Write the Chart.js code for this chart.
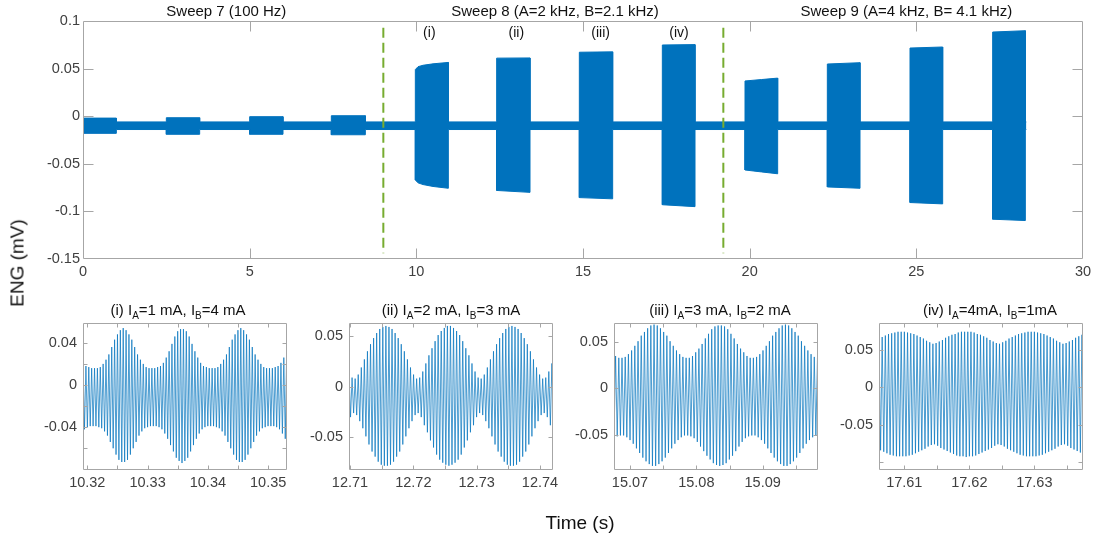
<!DOCTYPE html>
<html><head><meta charset="utf-8">
<script src="https://cdn.jsdelivr.net/npm/chart.js@4.4.1/dist/chart.umd.min.js"></script>
<style>
html,body{margin:0;padding:0;background:#fff;}
#wrap{position:relative;width:1099px;height:538px;overflow:hidden;font-family:"Liberation Sans",Arial,Helvetica,sans-serif;}
canvas{position:absolute;left:0;top:0;}
.ttl{position:absolute;font-size:15px;line-height:15px;white-space:nowrap;color:#111;transform:translateX(-50%);}
.ttl .s{font-size:10px;position:relative;top:4px;}
.lab{position:absolute;font-size:19px;line-height:19px;white-space:nowrap;color:#111;}
</style></head><body><div id="wrap">
<canvas id="cMain" width="1099" height="538"></canvas>
<canvas id="c1" width="1099" height="538"></canvas>
<canvas id="c2" width="1099" height="538"></canvas>
<canvas id="c3" width="1099" height="538"></canvas>
<canvas id="c4" width="1099" height="538"></canvas>
<div class="ttl" style="left:178px;top:302px">(i) I<span class="s">A</span>=1 mA, I<span class="s">B</span>=4 mA</div>
<div class="ttl" style="left:451px;top:302px">(ii) I<span class="s">A</span>=2 mA, I<span class="s">B</span>=3 mA</div>
<div class="ttl" style="left:720px;top:302px">(iii) I<span class="s">A</span>=3 mA, I<span class="s">B</span>=2 mA</div>
<div class="ttl" style="left:990px;top:302px">(iv) I<span class="s">A</span>=4mA, I<span class="s">B</span>=1mA</div>
<div class="lab" style="left:17px;top:263px;transform:translate(-50%,-50%) rotate(-90deg)">ENG (mV)</div>
<div class="lab" style="left:580px;top:513px;transform:translateX(-50%)">Time (s)</div>
</div>
<script>
// ---------- main sweep recording: envelope of the trace ----------
const mainTime  = [0, 1.0, 1.0, 2.5, 2.5, 3.5, 3.5, 5.0, 5.0, 6.0, 6.0, 7.45, 7.45, 8.47, 8.47, 9.97, 9.97, 10.05, 10.2, 10.5, 10.96, 10.96, 12.41, 12.41, 13.41, 13.41, 14.89, 14.89, 15.89, 15.89, 17.38, 17.38, 18.36, 18.36, 19.86, 19.86, 20.35, 20.84, 20.84, 22.33, 22.33, 23.31, 23.31, 24.81, 24.81, 25.79, 25.79, 27.29, 27.29, 28.27, 28.27, 28.3];
const mainUpper = [-0.002, -0.002, -0.006, -0.006, -0.0016, -0.0016, -0.006, -0.006, -0.0005, -0.0005, -0.006, -0.006, 0.0005, 0.0005, -0.006, -0.006, 0.049, 0.052, 0.0535, 0.055, 0.0565, -0.006, -0.006, 0.061, 0.0612, -0.006, -0.006, 0.0672, 0.0676, -0.006, -0.006, 0.0748, 0.0752, -0.006, -0.006, 0.037, 0.0385, 0.040, -0.006, -0.006, 0.0548, 0.0562, -0.006, -0.006, 0.0716, 0.0727, -0.006, -0.006, 0.0884, 0.0898, -0.006, -0.006];
const mainLower = [-0.018, -0.018, -0.014, -0.014, -0.019, -0.019, -0.014, -0.014, -0.019, -0.019, -0.014, -0.014, -0.0195, -0.0195, -0.014, -0.014, -0.067, -0.070, -0.0718, -0.0738, -0.0757, -0.014, -0.014, -0.078, -0.080, -0.014, -0.014, -0.0855, -0.0868, -0.014, -0.014, -0.093, -0.095, -0.014, -0.014, -0.0565, -0.0585, -0.0605, -0.014, -0.014, -0.0743, -0.0757, -0.014, -0.014, -0.0907, -0.0921, -0.014, -0.014, -0.1082, -0.1096, -0.014, -0.014];
const sweepLabels = ['Sweep 7 (100 Hz)', 'Sweep 8 (A=2 kHz, B=2.1 kHz)', 'Sweep 9 (A=4 kHz, B= 4.1 kHz)'];
const sweepLabelX = [4.3, 14.16, 24.7];
const burstLabels = ['(i)', '(ii)', '(iii)', '(iv)'];
const burstLabelX = [10.39, 13.0, 15.53, 17.88];
const sweepBoundaries = [9.01, 19.21];
const boundaryTop = 0.093, boundaryBottom = -0.144;

// ---------- zoomed windows: sampled trace (mV), uniform sampling ----------
const zoomStart = [10.3193, 12.70984, 15.06759, 17.60611];
const zoomStep  = [0.0002378, 0.0002427, 0.0002415, 0.0002439];
const zoomXMin  = [10.31929, 12.70984, 15.06759, 17.60611];
const zoomXMax  = [10.35312, 12.74205, 15.09834, 17.63749];
const zoomYMin  = [-0.0806, -0.0822, -0.0884, -0.1103];
const zoomYMax  = [0.0588, 0.0629, 0.0707, 0.0857];
const zoomYStep = [0.02, 0.05, 0.05, 0.05];
const zoomYLabelled = [[0.04, 0, -0.04], [0.05, 0, -0.05], [0.05, 0, -0.05], [0.05, 0, -0.05]];

const zoomI = [.021,-.042,.018,-.040,.017,-.039,.016,-.039,.016,-.039,.016,-.040,.017,-.041,.020,-.044,.024,-.048,.029,-.054,.036,-.060,.043,-.066,.048,-.071,.052,-.073,.054,-.073,.052,-.071,.048,-.066,.043,-.060,.036,-.054,.029,-.048,.024,-.044,.020,-.041,.017,-.040,.016,-.039,.016,-.039,.016,-.039,.017,-.040,.018,-.042,.021,-.046,.026,-.051,.032,-.057,.039,-.063,.046,-.069,.051,-.072,.053,-.074,.053,-.072,.051,-.069,.046,-.063,.039,-.057,.032,-.051,.026,-.046,
 .021,-.042,.018,-.040,.017,-.039,.016,-.039,.016,-.039,.016,-.040,.017,-.041,.020,-.044,.024,-.048,.029,-.054,.036,-.060,.043,-.066,.048,-.071,.052,-.073,.054,-.073,.052,-.071,.048,-.066,.043,-.060,.036,-.054,.029,-.048,.024,-.044,.020,-.041,.017,-.040,.016,-.039,.016,-.039,.016,-.039,.017,-.040,.018,-.042,.021,-.046,.026,-.051,.032,-.057];
const zoomII = [.015,-.030,.009,-.026,.008,-.028,.012,-.034,.019,-.041,.027,-.049,.035,-.057,.042,-.064,.048,-.069,.053,-.074,.057,-.077,.059,-.078,.060,-.078,.059,-.077,.057,-.074,.053,-.069,.048,-.064,.042,-.057,.035,-.049,.027,-.041,.019,-.034,.012,-.028,.008,-.026,.009,-.030,.015,-.038,.023,-.045,.031,-.053,.038,-.060,.045,-.067,.051,-.072,.055,-.075,.058,-.077,.060,-.078,.060,-.077,.058,-.075,.055,-.072,.051,-.067,.045,-.060,.038,-.053,.031,-.045,.023,-.038,
 .015,-.030,.009,-.026,.008,-.028,.012,-.034,.019,-.041,.027,-.049,.035,-.057,.042,-.064,.048,-.069,.053,-.074,.057,-.077,.059,-.078,.060,-.078,.059,-.077,.057,-.074,.053,-.069,.048,-.064,.042,-.057,.035,-.049,.027,-.041,.019,-.034,.012,-.028,.008,-.026,.009,-.030,.015,-.038,.023,-.045];
const zoomIII = [-.054,.035,-.052,.033,-.051,.033,-.051,.034,-.053,.037,-.056,.041,-.060,.046,-.065,.051,-.070,.057,-.075,.061,-.079,.065,-.082,.068,-.084,.069,-.084,.068,-.082,.065,-.079,.061,-.075,.057,-.070,.051,-.065,.046,-.060,.041,-.056,.037,-.053,.034,-.051,.033,-.051,.033,-.052,.035,-.054,.039,-.058,.043,-.063,.048,-.068,.054,-.073,.059,-.077,.064,-.081,.067,-.083,.068,-.084,.068,-.083,.067,-.081,.064,-.077,.059,-.073,.054,-.068,.048,-.063,.043,-.058,.039,
 -.054,.035,-.052,.033,-.051,.033,-.051,.034,-.053,.037,-.056,.041,-.060,.046,-.065,.051,-.070,.057,-.075,.061,-.079,.065,-.082,.068,-.084,.069,-.084,.068,-.082,.065,-.079,.061,-.075,.057,-.070,.051,-.065,.046,-.060,.041,-.056,.037,-.053,.034,-.051,.033,-.051];
const zoomIV = [.065,-.084,.067,-.086,.069,-.088,.071,-.090,.072,-.091,.073,-.092,.074,-.092,.074,-.092,.074,-.092,.073,-.091,.072,-.090,.071,-.088,.069,-.086,.067,-.084,.065,-.082,.062,-.079,.060,-.077,.058,-.076,.059,-.078,.061,-.081,.063,-.083,.066,-.085,.068,-.087,.070,-.089,.071,-.091,.073,-.092,.074,-.092,.074,-.093,.074,-.092,.074,-.092,.073,-.091,.071,-.089,.070,-.087,.068,-.085,.066,-.083,.063,-.081,.061,-.078,.059,-.076,.058,-.077,.060,-.079,.062,-.082,
 .065,-.084,.067,-.086,.069,-.088,.071,-.090,.072,-.091,.073,-.092,.074,-.092,.074,-.092,.074,-.092,.073,-.091,.072,-.090,.071,-.088,.069,-.086,.067,-.084,.065,-.082,.062,-.079,.060,-.077,.058,-.076,.059,-.078,.061,-.081,.063,-.083,.066,-.085,.068,-.087,.070,-.089];
const zoomSeries = [zoomI, zoomII, zoomIII, zoomIV];

// ---------- styling ----------
const TRACE = '#0072BD', MARKER = '#77AC30', AXIS = '#a6a6a6', TICKTXT = '#404040', TXT = '#111';
const FONT = '"Liberation Sans", Arial, Helvetica, sans-serif';
Chart.defaults.font.family = FONT;
Chart.defaults.animation = false;

function fmt(v) { return String(parseFloat(v.toFixed(4))); }

function boxTicks(len) {
  return {
    id: 'boxTicks',
    afterDatasetsDraw(chart) {
      const {ctx, chartArea: a, scales} = chart;
      const L = Math.round(a.left) + 0.5, R = Math.round(a.right) - 0.5;
      const T = Math.round(a.top) + 0.5, B = Math.round(a.bottom) - 0.5;
      ctx.save();
      ctx.strokeStyle = AXIS; ctx.lineWidth = 1;
      ctx.beginPath();
      scales.x.ticks.forEach(t => {
        const p = Math.round(scales.x.getPixelForValue(t.value)) + 0.5;
        if (p < L + 1 || p > R - 1) return;
        ctx.moveTo(p, B); ctx.lineTo(p, B - len);
        ctx.moveTo(p, T); ctx.lineTo(p, T + len);
      });
      scales.y.ticks.forEach(t => {
        const p = Math.round(scales.y.getPixelForValue(t.value)) + 0.5;
        if (p < T + 1 || p > B - 1) return;
        ctx.moveTo(L, p); ctx.lineTo(L + len, p);
        ctx.moveTo(R, p); ctx.lineTo(R - len, p);
      });
      ctx.rect(L, T, R - L, B - T);
      ctx.stroke();
      ctx.restore();
    }
  };
}

const mainAnnot = {
  id: 'mainAnnot',
  afterDraw(chart) {
    const {ctx, scales: {x}} = chart;
    ctx.save();
    ctx.fillStyle = TXT; ctx.textAlign = 'center'; ctx.textBaseline = 'alphabetic';
    ctx.font = '15px ' + FONT;
    sweepLabels.forEach((s, i) => ctx.fillText(s, x.getPixelForValue(sweepLabelX[i]), 16));
    ctx.font = '14px ' + FONT;
    burstLabels.forEach((s, i) => ctx.fillText(s, x.getPixelForValue(burstLabelX[i]), 37));
    ctx.restore();
  }
};

function axisCommon(extra) {
  return Object.assign({
    type: 'linear',
    grid: { display: false, drawTicks: false },
    border: { display: false },
  }, extra);
}

// ---------- main chart ----------
new Chart(document.getElementById('cMain'), {
  type: 'line',
  data: {
    datasets: [
      { data: mainTime.map((t, i) => ({x: t, y: mainUpper[i]})), borderColor: TRACE, borderWidth: 1, fill: false, pointRadius: 0, tension: 0 },
      { data: mainTime.map((t, i) => ({x: t, y: mainLower[i]})), borderColor: TRACE, borderWidth: 1, backgroundColor: TRACE, fill: '-1', pointRadius: 0, tension: 0 },
      ...sweepBoundaries.map(b => ({ data: [{x: b, y: boundaryTop}, {x: b, y: boundaryBottom}], borderColor: MARKER, borderWidth: 2, borderDash: [10, 5], fill: false, pointRadius: 0, order: -1 }))
    ]
  },
  options: {
    responsive: false, devicePixelRatio: 1,
    layout: { padding: { left: 33, top: 21, right: 16, bottom: 249 } },
    plugins: { legend: { display: false }, tooltip: { enabled: false } },
    scales: {
      x: axisCommon({ min: 0, max: 30, ticks: { stepSize: 5, includeBounds: false, autoSkip: false, maxRotation: 0, padding: 4, color: TICKTXT, font: { size: 14.5 }, callback: v => fmt(v) }, afterFit: s => { s.height = 30; } }),
      y: axisCommon({ min: -0.15, max: 0.1, ticks: { stepSize: 0.05, includeBounds: false, padding: 3, color: TICKTXT, font: { size: 14.5 }, callback: v => fmt(v) }, afterFit: s => { s.width = 50; } })
    }
  },
  plugins: [boxTicks(10), mainAnnot]
});

// ---------- zoomed sub-plots ----------
const subLeft = [83, 349, 614, 879];
const subWidth = 204, subTop = 323, subBottom = 470;
zoomSeries.forEach((vals, n) => {
  const labelled = zoomYLabelled[n];
  new Chart(document.getElementById('c' + (n + 1)), {
    type: 'line',
    data: { datasets: [{ data: vals.map((v, i) => ({x: zoomStart[n] + i * zoomStep[n], y: v})), borderColor: TRACE, borderWidth: 0.7, fill: false, pointRadius: 0, tension: 0 }] },
    options: {
      responsive: false, devicePixelRatio: 1,
      layout: { padding: { left: subLeft[n] - 50, top: subTop, right: 1099 - subLeft[n] - subWidth, bottom: 538 - subBottom - 30 } },
      plugins: { legend: { display: false }, tooltip: { enabled: false } },
      scales: {
        x: axisCommon({ min: zoomXMin[n], max: zoomXMax[n], ticks: { stepSize: 0.005, includeBounds: false, autoSkip: false, maxRotation: 0, padding: 4, color: TICKTXT, font: { size: 14.5 },
              callback: v => (Math.abs(v * 100 - Math.round(v * 100)) < 1e-6 ? v.toFixed(2) : '') }, afterFit: s => { s.height = 30; } }),
        y: axisCommon({ min: zoomYMin[n], max: zoomYMax[n], ticks: { stepSize: zoomYStep[n], includeBounds: false, padding: 6, color: TICKTXT, font: { size: 14.5 },
              callback: v => (labelled.some(l => Math.abs(l - v) < 1e-9) ? fmt(v) : '') }, afterFit: s => { s.width = 50; } })
      }
    },
    plugins: [boxTicks(4)]
  });
});
</script>
</body></html>
